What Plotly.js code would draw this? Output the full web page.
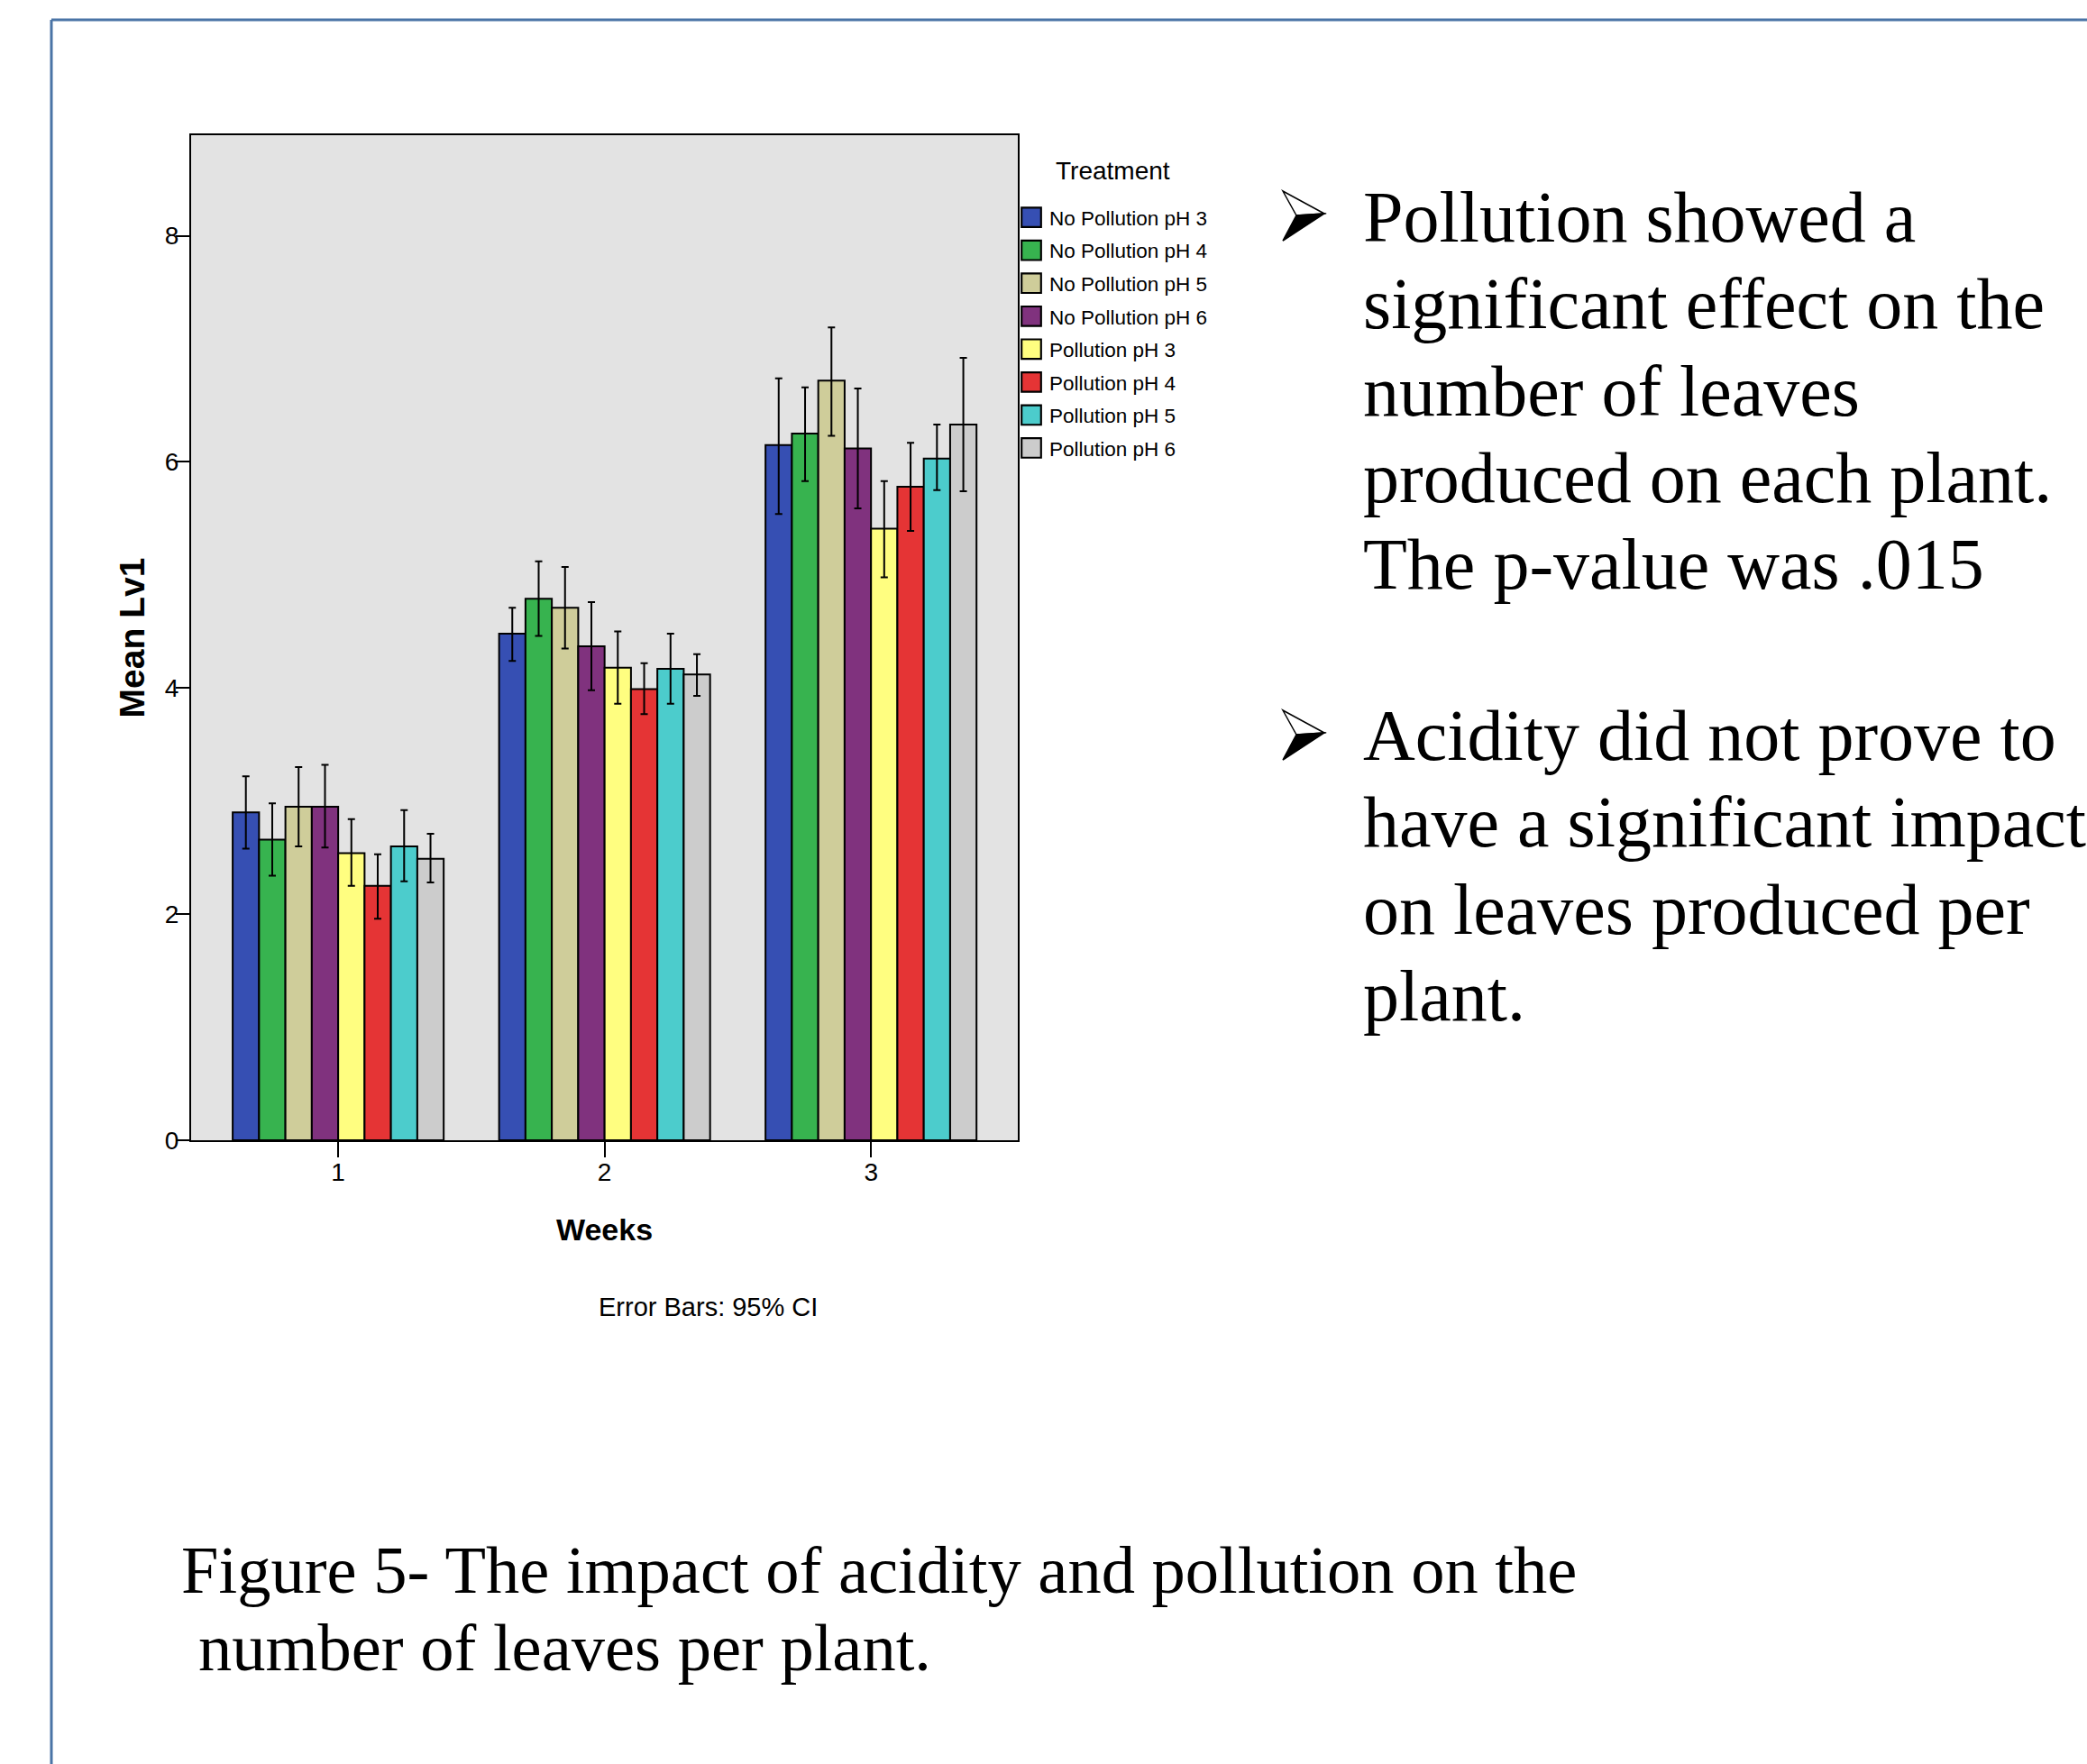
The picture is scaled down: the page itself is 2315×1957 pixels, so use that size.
<!DOCTYPE html>
<html>
<head>
<meta charset="utf-8">
<script src="https://cdn.plot.ly/plotly-3.0.1.min.js"></script>
<style>
  html, body { margin: 0; padding: 0; background: #ffffff; }
  #chart { width: 2315px; height: 1957px; }
</style>
</head>
<body>
<div id="chart"></div>
<script>
// ---------------- DATA ----------------
const weeks = ['1', '2', '3'];
const treatments = [
  'No Pollution pH 3', 'No Pollution pH 4', 'No Pollution pH 5', 'No Pollution pH 6',
  'Pollution pH 3', 'Pollution pH 4', 'Pollution pH 5', 'Pollution pH 6'
];
const treatmentColors = ['#364fb3', '#37b34f', '#cfcd9a', '#80327e', '#fffe80', '#e53435', '#4ccccc', '#cccccc'];

// Mean number of leaves per week (weeks 1,2,3)
const np3Mean = [2.90, 4.48, 6.15];
const np4Mean = [2.66, 4.79, 6.25];
const np5Mean = [2.95, 4.71, 6.72];
const np6Mean = [2.95, 4.37, 6.12];
const p3Mean  = [2.54, 4.18, 5.41];
const p4Mean  = [2.25, 3.99, 5.78];
const p5Mean  = [2.60, 4.17, 6.03];
const p6Mean  = [2.49, 4.12, 6.33];

// 95% CI upper bounds
const np3Upper = [3.22, 4.71, 6.74];
const np4Upper = [2.98, 5.12, 6.66];
const np5Upper = [3.30, 5.07, 7.19];
const np6Upper = [3.32, 4.76, 6.65];
const p3Upper  = [2.84, 4.50, 5.83];
const p4Upper  = [2.53, 4.22, 6.17];
const p5Upper  = [2.92, 4.48, 6.33];
const p6Upper  = [2.71, 4.30, 6.92];

// 95% CI lower bounds
const np3Lower = [2.58, 4.24, 5.54];
const np4Lower = [2.34, 4.46, 5.83];
const np5Lower = [2.60, 4.35, 6.23];
const np6Lower = [2.59, 3.98, 5.59];
const p3Lower  = [2.25, 3.86, 4.98];
const p4Lower  = [1.96, 3.77, 5.39];
const p5Lower  = [2.29, 3.86, 5.75];
const p6Lower  = [2.28, 3.93, 5.74];

const yTickVals = [0, 2, 4, 6, 8];

const bulletOne = [
  'Pollution showed a',
  'significant effect on the',
  'number of leaves',
  'produced on each plant.',
  'The p-value was .015'
];
const bulletTwo = [
  'Acidity did not prove to',
  'have a significant impact',
  'on leaves produced per',
  'plant.'
];
const captionLines = [
  'Figure 5- The impact of acidity and pollution on the',
  'number of leaves per plant.'
];

// ---------------- BUILD ----------------
const means  = [np3Mean, np4Mean, np5Mean, np6Mean, p3Mean, p4Mean, p5Mean, p6Mean];
const uppers = [np3Upper, np4Upper, np5Upper, np6Upper, p3Upper, p4Upper, p5Upper, p6Upper];
const lowers = [np3Lower, np4Lower, np5Lower, np6Lower, p3Lower, p4Lower, p5Lower, p6Lower];

const NARROW = '"Liberation Sans Narrow", "Arial Narrow", "Liberation Sans", Arial, sans-serif';
const SANS = '"Liberation Sans", Arial, sans-serif';
const SERIF = '"Liberation Serif", "Times New Roman", serif';

const traces = treatments.map((name, i) => ({
  type: 'bar',
  name: name,
  legendgroup: 'g' + i,
  x: weeks,
  y: means[i],
  marker: { color: treatmentColors[i], line: { color: '#000000', width: 2 } },
  error_y: {
    type: 'data',
    symmetric: false,
    array: uppers[i].map((u, k) => u - means[i][k]),
    arrayminus: lowers[i].map((l, k) => means[i][k] - l),
    color: '#000000',
    thickness: 2,
    width: 4
  },
  hoverinfo: 'x+y+name'
}));

// plot area in pixels
const W = 2315, H = 1957;
const PL = 212, PR = 1129, PT = 150, PB = 1265;
const px = v => (v - PL) / (PR - PL);
const py = v => (PB - v) / (PB - PT);

const annotations = [];
function addText(text, xPix, yCenterPix, size, family, anchor, color) {
  annotations.push({
    text: text, xref: 'paper', yref: 'paper',
    x: px(xPix), y: py(yCenterPix),
    xanchor: anchor || 'left', yanchor: 'middle',
    showarrow: false,
    font: { family: family, size: size, color: color || '#000000' }
  });
}

// Legend heading
addText('Treatment', 1234, 189, 28, NARROW, 'center');

// Error bars note
addText('Error Bars: 95% CI', 785, 1450, 29, NARROW, 'center');

// Bullet text
const b1Base = [268, 364, 461, 557, 653];
bulletOne.forEach((t, i) => addText(t, 1510, b1Base[i] - 27, 80, SERIF, 'left'));
const b2Base = [843, 939, 1036, 1132];
bulletTwo.forEach((t, i) => addText(t, 1510, b2Base[i] - 27, 80, SERIF, 'left'));

// Caption
addText(captionLines[0], 199, 1767 - 25, 74.5, SERIF, 'left');
addText(captionLines[1], 218, 1853 - 25, 74.5, SERIF, 'left');

// bullet arrowheads (3D style): white upper facet, black lower facet
function poly(points) {
  return 'M' + points.map(p => px(p[0]) + ',' + py(p[1])).join('L') + 'Z';
}
function arrowShapes(top) {
  const A = [1423, top], T = [1469, top + 25], N = [1438, top + 27], B = [1423, top + 55];
  return [
    { type: 'path', xref: 'paper', yref: 'paper', path: poly([A, T, N]),
      fillcolor: '#ffffff', line: { color: '#000000', width: 1.5 } },
    { type: 'path', xref: 'paper', yref: 'paper', path: poly([N, T, B]),
      fillcolor: '#000000', line: { color: '#000000', width: 1.5 } }
  ];
}

const shapes = [
  { type: 'line', xref: 'paper', yref: 'paper', x0: px(57), x1: px(W + 10), y0: py(22), y1: py(22),
    line: { color: '#4a74a6', width: 3 } },
  { type: 'line', xref: 'paper', yref: 'paper', x0: px(57), x1: px(57), y0: py(22), y1: py(H + 10),
    line: { color: '#4a74a6', width: 3 } }
].concat(arrowShapes(212), arrowShapes(788));

const layout = {
  width: W, height: H,
  autosize: false,
  paper_bgcolor: '#ffffff',
  plot_bgcolor: '#e3e3e3',
  margin: { l: PL, r: W - PR, t: PT, b: H - PB, pad: 0 },
  barmode: 'group',
  bargap: 0.208,
  bargroupgap: 0,
  showlegend: true,
  font: { family: NARROW, color: '#000000' },
  xaxis: {
    type: 'category',
    range: [-0.552, 2.551],
    showline: true, linecolor: '#000000', linewidth: 2, mirror: true,
    ticks: 'outside', ticklen: 17, tickwidth: 2, tickcolor: '#000000',
    tickfont: { family: NARROW, size: 28, color: '#000000' },
    ticklabelstandoff: -8,
    showgrid: false, zeroline: false,
    automargin: false,
    title: { text: 'Weeks', font: { family: NARROW, size: 34, color: '#000000', weight: 'bold' }, standoff: 38 }
  },
  yaxis: {
    range: [0, 8.89],
    tickvals: yTickVals,
    showline: true, linecolor: '#000000', linewidth: 2, mirror: true,
    ticks: 'outside', ticklen: 15, tickwidth: 2, tickcolor: '#000000',
    tickfont: { family: NARROW, size: 28, color: '#000000' },
    ticklabelstandoff: -9,
    showgrid: false, zeroline: false,
    automargin: false,
    title: { text: 'Mean Lv1', font: { family: SANS, size: 39, color: '#000000', weight: 'bold' }, standoff: 10 }
  },
  legend: {
    x: px(1124), xanchor: 'left',
    y: py(220), yanchor: 'top',
    bgcolor: 'rgba(0,0,0,0)',
    borderwidth: 0,
    font: { family: NARROW, size: 22.5, color: '#000000' },
    tracegroupgap: 4.3,
    traceorder: 'grouped'
  },
  annotations: annotations,
  shapes: shapes
};

Plotly.newPlot('chart', traces, layout, { displayModeBar: false, responsive: false }).then(gd => {
  gd.querySelectorAll('.legend .legendpoints path').forEach(p => {
    const t = p.getAttribute('transform') || '';
    p.setAttribute('transform', t + ' scale(1.8)');
    p.style.strokeWidth = '1.2px';
  });
});
</script>
</body>
</html>
